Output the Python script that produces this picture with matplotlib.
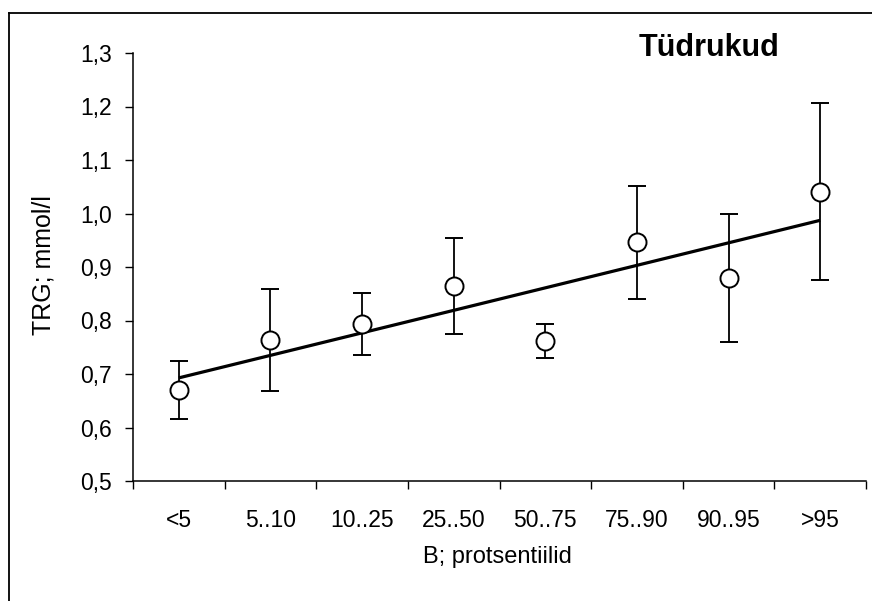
import numpy as np
import matplotlib
matplotlib.use("Agg")
import matplotlib.pyplot as plt
from matplotlib.lines import Line2D

plt.rcParams['font.family'] = ['Liberation Sans', 'DejaVu Sans']

# Percentile groups and mean TRG with error half-widths
categories = ["<5", "5..10", "10..25", "25..50", "50..75", "75..90", "90..95", ">95"]
trg_mean = [0.670, 0.764, 0.793, 0.864, 0.762, 0.946, 0.880, 1.041]
trg_err = [0.054, 0.095, 0.058, 0.090, 0.032, 0.106, 0.120, 0.165]
y_ticks = [0.5, 0.6, 0.7, 0.8, 0.9, 1.0, 1.1, 1.2, 1.3]

W, H = 872, 601
fig = plt.figure(figsize=(W / 100, H / 100), dpi=100)
ax = fig.add_axes([133 / W, 1 - 481 / H, (866 - 133) / W, (481 - 53) / H])

x = np.arange(len(categories))

# Linear trend through the group means
slope, intercept = np.polyfit(x, trg_mean, 1)
ax.plot([x[0], x[-1]], [intercept, intercept + slope * x[-1]],
        color='black', lw=2.3, solid_capstyle='butt', zorder=2)

ax.errorbar(x, trg_mean, yerr=trg_err, fmt='o', color='black', ecolor='black',
            elinewidth=1.3, capsize=6.5, capthick=1.3,
            markerfacecolor='white', markeredgecolor='black',
            markeredgewidth=1.4, markersize=13, zorder=3)

ax.set_xlim(-0.5, len(categories) - 0.5)
ax.set_ylim(0.5, 1.3)

ax.set_yticks(y_ticks)
ax.set_yticklabels([f"{v:.1f}".replace('.', ',') for v in y_ticks])
ax.set_xticks(x)
ax.set_xticklabels(categories)
ax.set_xticks(np.arange(-0.5, len(categories)), minor=True)

ax.tick_params(axis='x', which='major', length=0, pad=20, labelsize=16.5)
ax.tick_params(axis='x', which='minor', length=6, width=1, direction='out')
ax.tick_params(axis='y', which='major', length=6, width=1, direction='out',
               pad=9, labelsize=16.5)

for side in ('top', 'right'):
    ax.spines[side].set_visible(False)
for side in ('left', 'bottom'):
    ax.spines[side].set_linewidth(1.1)

fig.text(44 / W, 1 - 265 / H, "TRG; mmol/l", rotation=90, ha='center', va='center',
         fontsize=18)
fig.text(497 / W, 1 - 557 / H, "B; protsentiilid", ha='center', va='center',
         fontsize=17)
fig.text(709 / W, 1 - 48 / H, "Tüdrukud", ha='center', va='center',
         fontsize=22, fontweight='bold')

# Frame around the chart area (left and top edges visible)
fig.add_artist(Line2D([9 / W, 9 / W], [1 - 13 / H, -0.05], color='black', lw=1.3,
                      transform=fig.transFigure))
fig.add_artist(Line2D([9 / W, 1.05], [1 - 13 / H, 1 - 13 / H], color='black', lw=1.3,
                      transform=fig.transFigure))

fig.savefig("out.png", dpi=100)
